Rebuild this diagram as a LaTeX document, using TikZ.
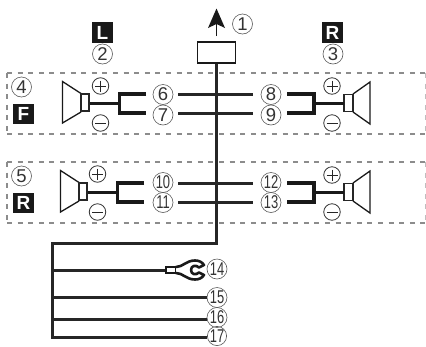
\documentclass[tikz,border=0pt]{standalone}
\usepackage{fontspec}
\setmainfont{Liberation Sans}
\usetikzlibrary{calc}
\tikzset{
 x=1pt,y=-1pt,
 num/.style={circle,draw=black!65,line width=.6pt,minimum size=20pt,inner sep=0pt,font=\fontsize{18.5}{18.5}\selectfont,text=black!80},
 sign/.style={circle,draw=black!80,line width=.8pt,minimum size=16.5pt,inner sep=0pt},
 tag/.style={fill=black!90,text=white,minimum size=20.5pt,inner sep=0pt,font=\fontsize{19}{19}\selectfont\bfseries},
 wire/.style={line width=2.3pt,black!85},
 lead/.style={line width=2.4pt,black!85},
 fork/.style={line width=3.7pt,black!90},
 stem/.style={line width=2.6pt,black!90},
 gbox/.style={black!45,line width=1.8pt,dash pattern=on 5pt off 5.6pt},
 gside/.style={black!25,line width=1pt,dash pattern=on 5pt off 5.6pt},
 cone/.style={draw=black!90,line width=1.3pt,line join=miter},
 coil/.style={draw=black!85,line width=1.6pt,fill=white},
}
\newcommand{\nm}[1]{\scalebox{.7}[1]{#1}}
\newcommand{\signmark}[2]{%
 \draw[line width=1pt,black!85] ($(#1)+(-5.5,0)$) -- ($(#1)+(5.5,0)$);
 \ifnum#2=1 \draw[line width=1pt,black!85] ($(#1)+(0,-5.5)$) -- ($(#1)+(0,5.5)$);\fi}
\begin{document}
\begin{tikzpicture}
\useasboundingbox (0,0) rectangle (426,346);
\draw[gbox] (7,73) -- (425,73);
\draw[gbox] (7,134) -- (425,134);
\draw[gbox] (7,73) -- (7,134);
\draw[gside] (425,73) -- (425,134);
\draw[gbox] (7,162) -- (425,162);
\draw[gbox] (7,223) -- (425,223);
\draw[gbox] (7,162) -- (7,223);
\draw[gside] (425,162) -- (425,223);
% tags
\node[tag] (tL) at (102.5,32.5) {L};
\node[tag] (tR) at (332.5,32.5) {R};
\node[tag] (tF) at (23.5,114) {F};
\node[tag] (tB) at (23.5,203) {R};
\node[num] (n1) at (242.5,24) {1};
\node[num] (n2) at (102.5,54) {2};
\node[num] (n3) at (333,54) {3};
\node[num] (n4) at (21.5,87) {4};
\node[num] (n5) at (21.5,176) {5};
\node[num] (n6) at (163,94.5) {6};
\node[num] (n7) at (163,115) {7};
\node[num] (n8) at (271,94.5) {8};
\node[num] (n9) at (271,115) {9};
\node[num] (n10) at (163,182.5) {\nm{10}};
\node[num] (n11) at (163,202.5) {\nm{11}};
\node[num] (n12) at (271,182.5) {\nm{12}};
\node[num] (n13) at (271,202.5) {\nm{13}};
\node[num] (n14) at (217,269) {\nm{14}};
\node[num] (n15) at (217,297.5) {\nm{15}};
\node[num] (n16) at (217,317.5) {\nm{16}};
\node[num,minimum size=18.5pt] (n17) at (217,336) {\nm{17}};
\coordinate (e17) at (207,337.5);
\coordinate (e16) at (207,319.5);
% main cable
\node[draw=black!90,line width=1.7pt,minimum width=38pt,minimum height=20.5pt,inner sep=0pt] (unit) at (216.5,52.5) {};
\coordinate (a1) at (216.5,20);
\coordinate (a0) at (216.5,36);
\draw[line width=1.7pt,black!90] (a0) -- (a1);
\fill[black!90] (216.5,8.5) -- (225,28) -- (216.5,24) -- (208,28) -- cycle;
\draw[lead] (unit.south) -- (216.5,243.5) -- (52.5,243.5) -- (52.5,337.5) -- (e17);
\draw[lead] (52.5,270.5) -- (166,270.5);
\draw[lead] (52.5,297.5) -- (n15.west);
\draw[lead] (52.5,319.5) -- (e16);
% terminal
\draw[line width=2.4pt,black!90,fill=white] (166,267) -- (176,267) -- (176,273) -- (166,273) -- cycle;
\draw[line width=2.6pt,black!90,fill=white,line join=round]
 (176,267) .. controls (183,267) and (186,260.5) .. (195,260.5)
 .. controls (199,260.5) and (202,262) .. (204,265)
 -- (199,267.5) .. controls (196,264.5) and (191,265.5) .. (191,270)
 .. controls (191,274.5) and (196,275.5) .. (199,272.5)
 -- (204,275) .. controls (202,278) and (199,279.5) .. (195,279.5)
 .. controls (186,279.5) and (183,273) .. (176,273);
% signal lines
\foreach \y in {94.5,113.5,183.5,202.5}{
 \draw[wire] (178,\y) -- (253,\y);
}
% left speakers
\foreach \dx/\dy in {0/0,-2/89}{
\begin{scope}[shift={(\dx,\dy)}]
 \draw[cone] (81,93.5) -- (62.5,81.5) -- (62.5,123) -- (81,112);
 \draw[coil] (81,94) rectangle (89,111);
 \draw[stem] (90,103.5) -- (119.5,103.5);
 \draw[fork] (146,94) -- (119.5,94) -- (119.5,113) -- (146,113);
\end{scope}
}
\foreach \dy in {0,89}{
\begin{scope}[shift={(0,\dy)}]
 \draw[cone] (353,94) -- (370,82) -- (370,124) -- (353,112);
 \draw[coil] (344,94.5) rectangle (353,111.5);
 \draw[stem] (314,103.5) -- (344,103.5);
 \draw[fork] (287,94) -- (314,94) -- (314,113) -- (287,113);
\end{scope}
}
% signs
\node[sign] (p1) at (100.5,86) {};
\node[sign] (m1) at (100.5,123) {};
\node[sign] (p2) at (332,86) {};
\node[sign] (m2) at (332,123) {};
\node[sign] (p3) at (97.5,174) {};
\node[sign] (m3) at (97.5,212) {};
\node[sign] (p4) at (332,175) {};
\node[sign] (m4) at (332,212) {};
\signmark{p1}{1}\signmark{p2}{1}\signmark{p3}{1}\signmark{p4}{1}
\signmark{m1}{0}\signmark{m2}{0}\signmark{m3}{0}\signmark{m4}{0}
\end{tikzpicture}
\end{document}
